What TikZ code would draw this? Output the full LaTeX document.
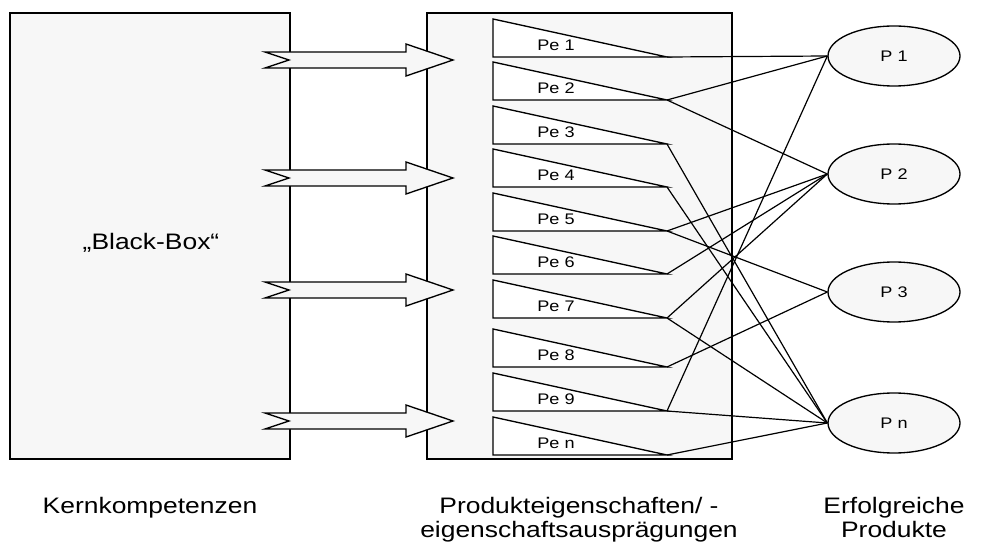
\documentclass[tikz,border=0pt]{standalone}
\usepackage{fontspec}
\setmainfont{Liberation Sans}
\newfontfamily\widefont[FakeStretch=1.18]{Liberation Sans}
\usetikzlibrary{shapes.geometric}
\begin{document}
\begin{tikzpicture}[x=0.75pt,y=-0.75pt,
  boxfill/.style={draw=black,line width=1pt,fill=gray!6},
  pebox/.style={draw=black,line width=1pt,fill=white,line join=miter},
  bigarrow/.style={draw=black,line width=1pt,fill=gray!6,line join=miter},
  prod/.style={draw=black,line width=1pt,fill=gray!6,ellipse,minimum width=99pt,minimum height=45pt,inner sep=0pt,font=\widefont\fontsize{11.5}{14}\selectfont},
  pelabel/.style={font=\widefont\fontsize{11.5}{14}\selectfont,inner sep=0pt},
  bigfont/.style={font=\widefont\fontsize{16.8}{20}\selectfont,inner sep=0pt},
  biglabel/.style={bigfont,anchor=base},
  conn/.style={draw=black,line width=0.9pt}]
\useasboundingbox (0,0) rectangle (989,545);
% boxes
\draw[boxfill] (10,13) rectangle (290,459);
\node[bigfont] (bb) at (151,243) {„Black-Box“};
\draw[boxfill] (427,13) rectangle (732,459);
% arrows
\foreach \c/\n in {60/a1,178/a2,290/a3,421/a4}{
  \draw[bigarrow] (265,\c-8) -- (406,\c-8) -- (406,\c-16) -- (453,\c) -- (406,\c+16) -- (406,\c+8) -- (265,\c+8) -- (289,\c) -- cycle;
}
% Pe shapes
\foreach \b/\t/\n in {57/Pe 1/1,100/Pe 2/2,144/Pe 3/3,187/Pe 4/4,231/Pe 5/5,274/Pe 6/6,318/Pe 7/7,367/Pe 8/8,411/Pe 9/9,455/Pe n/n}{
  \draw[pebox] (493,\b-38) -- (493,\b) -- (667,\b) -- cycle;
  \coordinate (pe\n) at (667,\b);
  \node[pelabel] (lab\n) at (556,\b-12) {\t};
}
% products
\node[prod] (P1) at (894,56) {P 1};
\node[prod] (P2) at (894,174) {P 2};
\node[prod] (P3) at (894,292) {P 3};
\node[prod] (Pn) at (894,423) {P n};
% connectors
\draw[conn] (pe1) -- (P1.west);
\draw[conn] (pe2) -- (P1.west);
\draw[conn] (pe2) -- (P2.west);
\draw[conn] (pe3) -- (Pn.west);
\draw[conn] (pe4) -- (Pn.west);
\draw[conn] (pe5) -- (P2.west);
\draw[conn] (pe5) -- (P3.west);
\draw[conn] (pe6) -- (P2.west);
\draw[conn] (pe7) -- (P2.west);
\draw[conn] (pe7) -- (Pn.west);
\draw[conn] (pe8) -- (P3.west);
\draw[conn] (pe9) -- (P1.west);
\draw[conn] (pe9) -- (Pn.west);
\draw[conn] (pen) -- (Pn.west);
% bottom labels
\node[biglabel] (k) at (150,513) {Kernkompetenzen};
\node[biglabel] (pe1t) at (579,513) {Produkteigenschaften/ -};
\node[biglabel] (pe2t) at (579,537) {eigenschaftsausprägungen};
\node[biglabel] (e1) at (894,513) {Erfolgreiche};
\node[biglabel] (e2) at (894,537) {Produkte};
\end{tikzpicture}
\end{document}
